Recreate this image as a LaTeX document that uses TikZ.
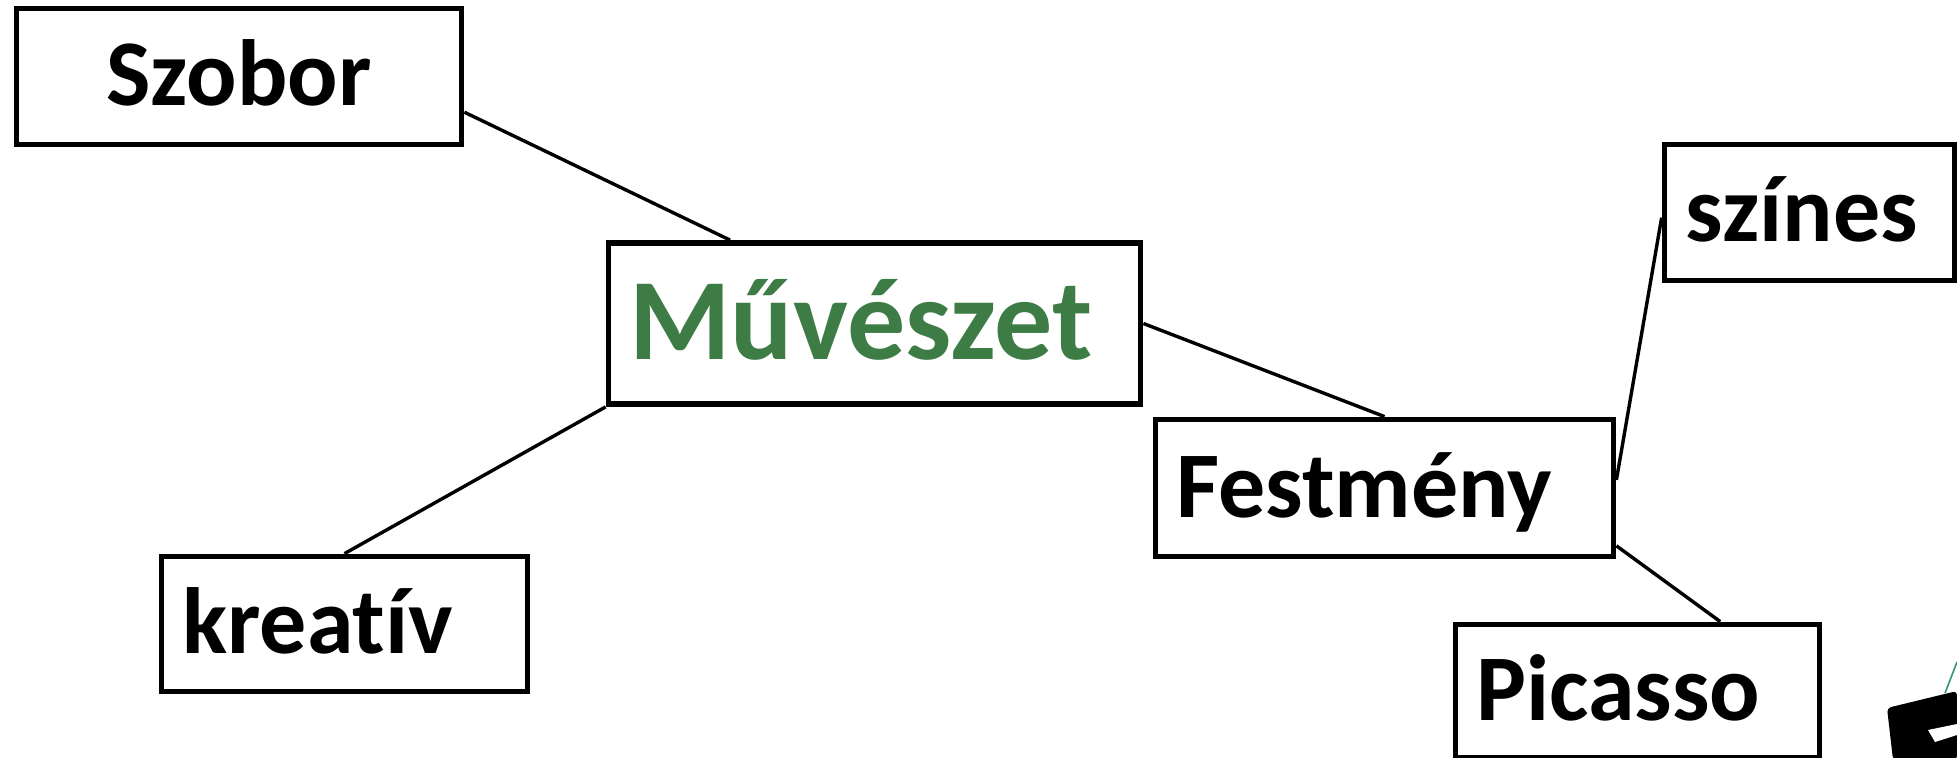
\documentclass[tikz,border=0pt]{standalone}
\usepackage{fontspec}
\setmainfont{Carlito}[Ligatures=NoCommon]
\definecolor{muvgreen}{RGB}{62,124,70}
\definecolor{pictgreen}{RGB}{50,150,110}
\begin{document}
\begin{tikzpicture}[x=0.5pt,y=-0.5pt,
  box/.style={draw=black, line width=2.9pt, inner sep=0pt, text height=29.4pt, text depth=0pt,
    font=\bfseries\fontsize{47}{50}\selectfont, align=left},
  conn/.style={draw=black, line width=1.7pt}]
\useasboundingbox (0,0) rectangle (1957,758);

\node[box, align=center, minimum width=222.5pt, minimum height=68pt] (szobor) at (239,76.5) {Szobor};
\node[box, minimum width=266pt, minimum height=80.5pt, text width=245pt, text height=36pt,
  text=muvgreen, font=\bfseries\fontsize{58}{60}\selectfont] (muv) at (874.5,323.5) {Művészet};
\node[box, minimum width=229pt, minimum height=68.5pt, text width=208pt] (fest) at (1384.5,488) {Festmény};
\node[box, minimum width=145.25pt, minimum height=68pt, text width=124.25pt] (szi) at (1809.75,212.5) {színes};
\node[box, minimum width=183pt, minimum height=67.5pt, text width=162pt] (kre) at (344.5,624) {kreatív};
\node[box, minimum width=182pt, minimum height=66.5pt, text width=161pt] (pic) at (1637.5,691) {Picasso};

\draw[conn] (szobor.-9.8) -- (muv.150.5);
\draw[conn] (muv.south west) -- (kre.north);
\draw[conn] (muv.east) -- (fest.north);
\draw[conn] (fest.2) -- (szi.182);
\draw[conn] (fest.-14.4) -- (pic.40);

% cut-off picture in the lower right corner
\fill[black, rounded corners=2pt] (1887,708) -- (1957,691) -- (1957,760) -- (1893,760) -- cycle;
\fill[white] (1928,730) -- (1957,724) -- (1957,735) -- (1935,742) -- cycle;
\draw[pictgreen, line width=0.8pt] (1945,693) -- (1957,662);
\end{tikzpicture}
\end{document}
